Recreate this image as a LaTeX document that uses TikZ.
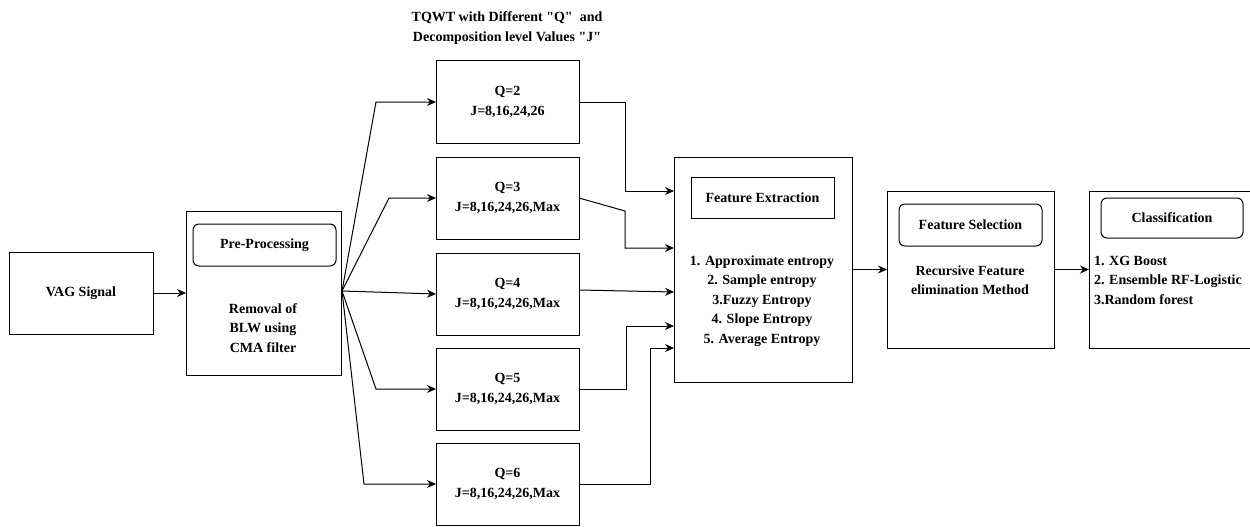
\documentclass[tikz,border=0pt]{standalone}
\usepackage{fontspec}
\setmainfont{Liberation Serif}[Ligatures=TeXOff]
\usetikzlibrary{arrows.meta,calc}
\begin{document}
\begin{tikzpicture}[x=1pt,y=-1pt,
  every node/.style={font=\fontsize{14}{19.5}\selectfont\bfseries, inner sep=0pt, outer sep=0pt},
  box/.style={draw, line width=1pt, anchor=north west},
  rbox/.style={draw, line width=1pt, rounded corners=6pt, anchor=north west},
  txt/.style={align=center},
  arr/.style={line width=1pt, -{Stealth[length=9pt,width=8pt]}},
  ln/.style={line width=0.8pt}
]
\useasboundingbox (0,0) rectangle (1250,527);

% VAG signal
\node[box, minimum width=144pt, minimum height=82pt] (vag) at (9,252) {VAG Signal};

% Pre-processing
\node[box, minimum width=155pt, minimum height=164pt] (pre) at (186,211) {};
\node[rbox, minimum width=143pt, minimum height=42pt] (preT) at (193,224) {Pre-Processing};
\node[txt] (preX) at (263,328) {Removal of\\BLW using\\CMA filter};

% Title
\node[txt] (title) at (507,28) {TQWT with Different "Q"\ \ and\\Decomposition level Values "J"};

% Q boxes
\node[box, minimum width=143pt, minimum height=82pt, txt] (q2) at (436,61) {Q=2\\J=8,16,24,26};
\node[box, minimum width=143pt, minimum height=82pt, txt] (q3) at (436,157) {Q=3\\J=8,16,24,26,Max};
\node[box, minimum width=143pt, minimum height=82pt, txt] (q4) at (436,253) {Q=4\\J=8,16,24,26,Max};
\node[box, minimum width=143pt, minimum height=82pt, txt] (q5) at (436,348) {Q=5\\J=8,16,24,26,Max};
\node[box, minimum width=143pt, minimum height=82pt, txt] (q6) at (436,443) {Q=6\\J=8,16,24,26,Max};

% Feature extraction
\node[box, minimum width=178pt, minimum height=225pt] (fe) at (674,157) {};
\node[box, minimum width=143pt, minimum height=41pt] (feT) at (691,177) {Feature Extraction};
\node[txt] (feX) at (762,301) {1. Approximate entropy\\2. Sample entropy\\3.Fuzzy Entropy\\4. Slope Entropy\\5. Average Entropy};

% Feature selection
\node[box, minimum width=167pt, minimum height=157pt] (fs) at (887,191) {};
\node[rbox, minimum width=143pt, minimum height=42pt] (fsT) at (899,204) {Feature Selection};
\node[txt] (fsX) at (970,280) {Recursive Feature\\elimination Method};

% Classification
\node[box, minimum width=175pt, minimum height=157pt] (cl) at (1089,191) {};
\node[rbox, minimum width=142pt, minimum height=40pt] (clT) at (1101,198) {Classification};
\node[align=left, anchor=west] (clX) at (1094,280) {1. XG Boost\\2. Ensemble RF-Logistic\\3.Random forest};

% coordinates
\coordinate (fan) at (342,291);
\coordinate (fe1) at ($(fe.north west)+(0,34)$);
\coordinate (fe2) at ($(fe.north west)+(0,91)$);
\coordinate (fe3) at ($(fe.north west)+(0,135)$);
\coordinate (fe4) at ($(fe.north west)+(0,169)$);
\coordinate (fe5) at ($(fe.north west)+(0,191)$);

% connectors
\draw[arr] (vag) -- (pre);
\draw[arr] (fan) -- (376,102) -- (q2.west);
\draw[arr] (fan) -- (389,198) -- (q3.west);
\draw[arr] (fan) -- (q4.west);
\draw[arr] (fan) -- (376,389) -- (q5.west);
\draw[arr] (fan) -- (364,484) -- (q6.west);

\draw[arr] (q2.east) -- (625,102) -- (625,191) -- (fe1);
\draw[arr] (q3.east) -- (625,211) -- (625,248) -- (fe2);
\draw[arr] ($(q4.east)+(0,-4)$) -- (fe3);
\draw[arr] (q5.east) -- (626,389) -- (626,326) -- (fe4);
\draw[arr] (q6.east) -- (650,484) -- (650,348) -- (fe5);

\draw[arr] (fe) -- (fs);
\draw[arr] (fs.east) -- (fs.east -| cl.west);
\end{tikzpicture}
\end{document}
